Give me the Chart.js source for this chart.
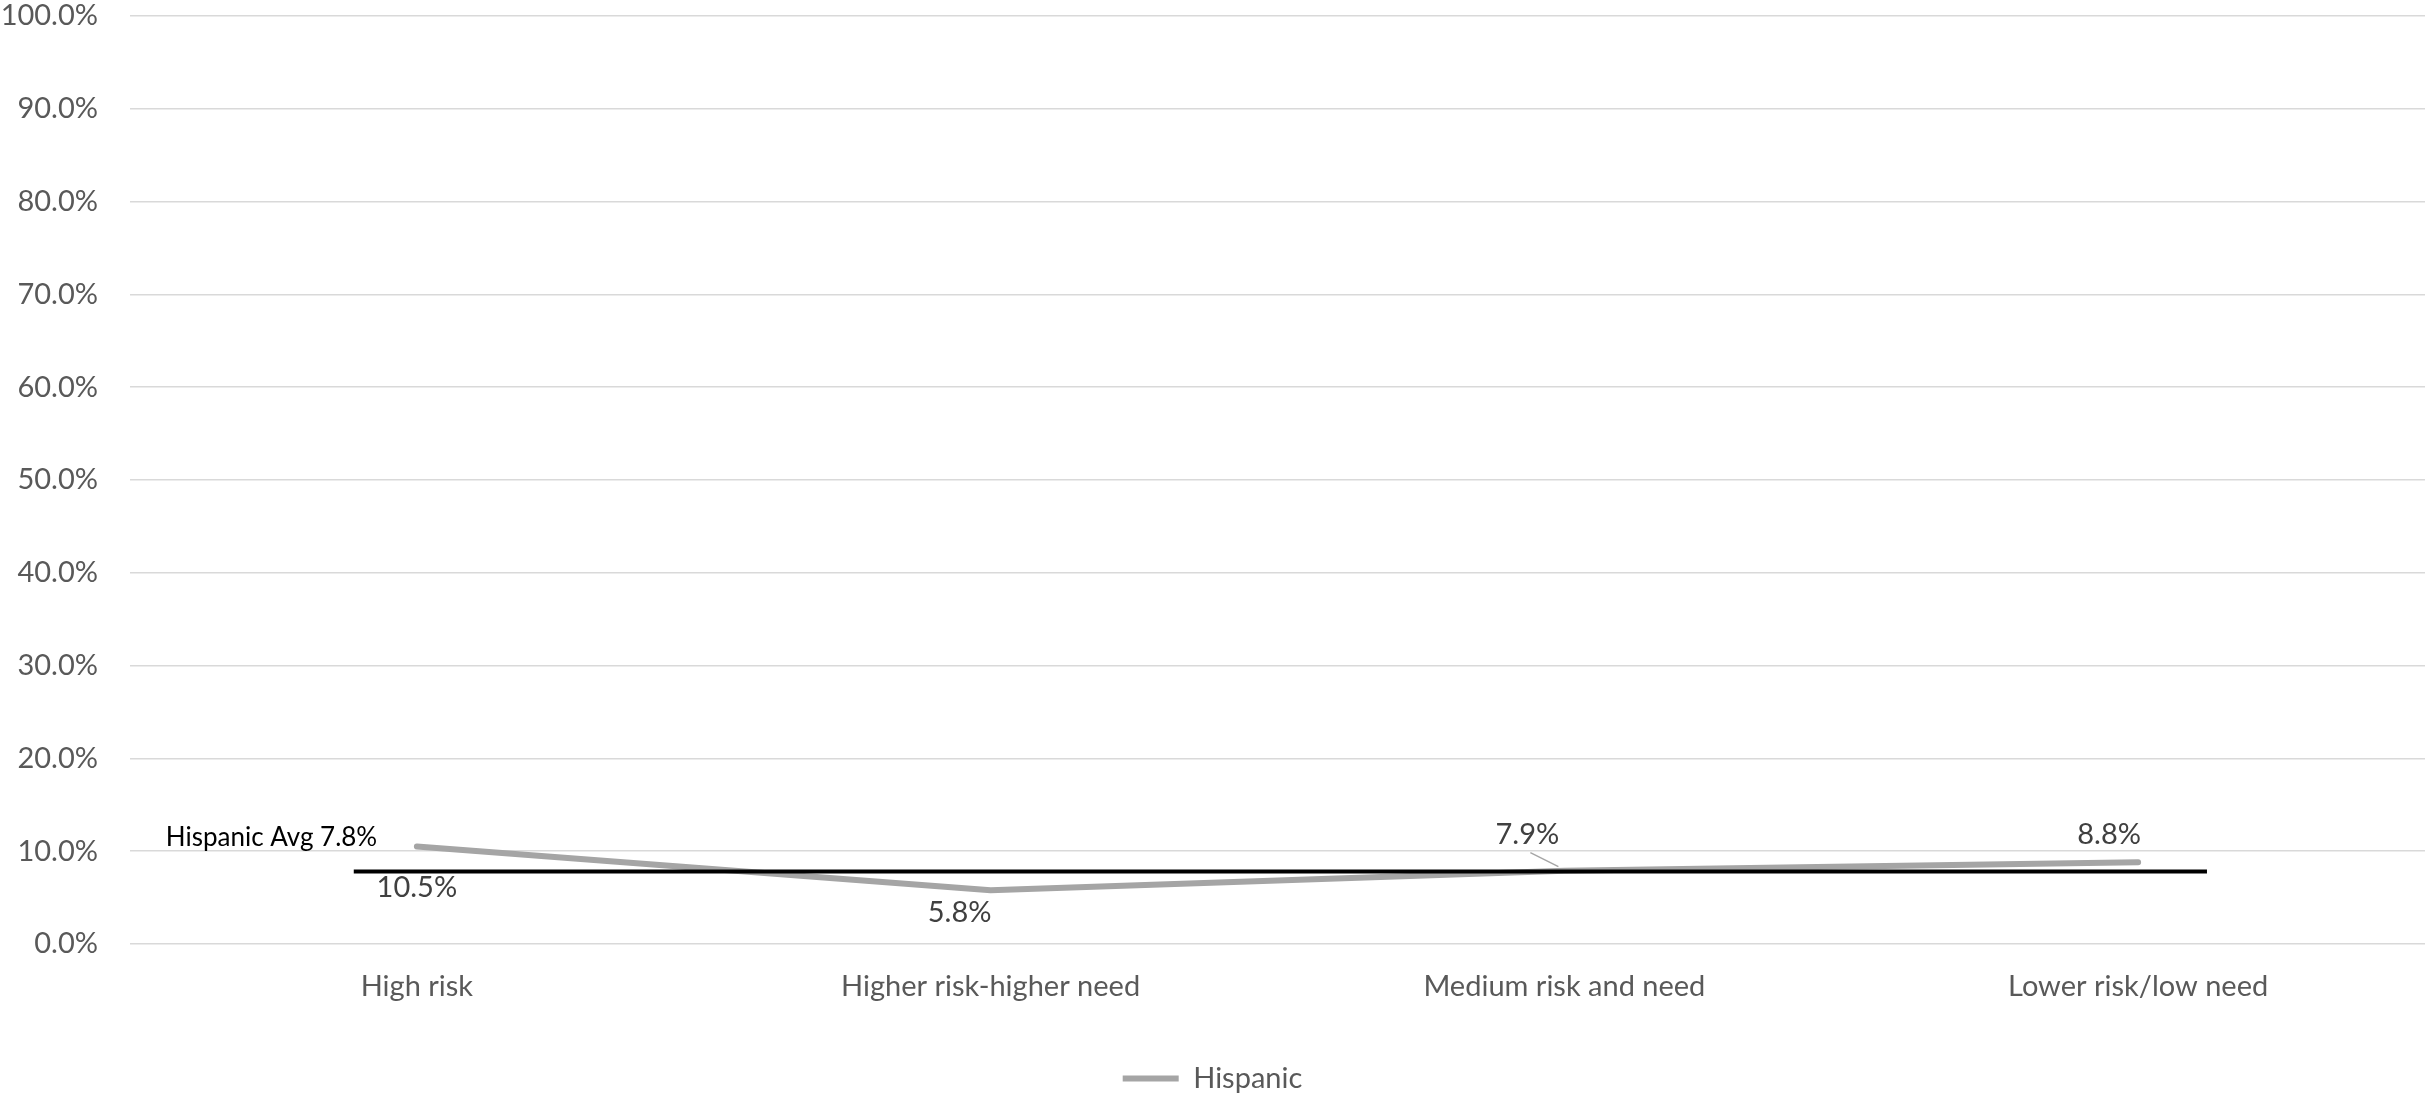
<!DOCTYPE html>
<html>
<head>
<meta charset="utf-8">
<script src="https://cdn.jsdelivr.net/npm/chart.js@4.4.0/dist/chart.umd.min.js"></script>
<style>
  body { margin: 0; background: #fff; }
  #wrap { width: 2425px; height: 1103px; }
</style>
</head>
<body>
<div id="wrap"><canvas id="chart-hispanic"></canvas></div>
<script>
const categories = ["High risk", "Higher risk-higher need", "Medium risk and need", "Lower risk/low need"]
const hispanic = [10.5, 5.8, 7.9, 8.8]
const hispanicAvg = 7.8
// start / end of the average line, in category widths from the left of the plot
const avgSpan = [0.39, 3.62]

// label offsets from each point, in px (Excel moved these by hand)
const labelOffsets = [[0, 41], [-31, 22], [-37, -36], [-29, -28]]

const fontFamily = "Lato, 'Open Sans', sans-serif"

const pointLabels = {
    id: "pointLabels",
    afterDatasetsDraw(chart) {
        const ctx = chart.ctx
        const meta = chart.getDatasetMeta(0)
        ctx.save()
        ctx.font = `29px ${fontFamily}`
        ctx.fillStyle = "#404040"
        ctx.textAlign = "center"
        ctx.textBaseline = "middle"
        meta.data.forEach((pt, i) => {
            const [dx, dy] = labelOffsets[i]
            const lx = pt.x + dx
            const ly = pt.y + dy
            ctx.fillText(hispanic[i].toFixed(1) + "%", lx, ly)
            // leader line for the 7.9% label
            if (i === 2) {
                ctx.strokeStyle = "#a5a5a5"
                ctx.lineWidth = 1.5
                ctx.beginPath()
                ctx.moveTo(lx + 3, ly + 18)
                ctx.lineTo(pt.x - 6, pt.y - 4)
                ctx.stroke()
            }
        })

        // average label
        const avgMeta = chart.getDatasetMeta(1)
        const start = avgMeta.data[0]
        ctx.font = `26px ${fontFamily}`
        ctx.fillStyle = "#000"
        ctx.textAlign = "left"
        ctx.fillText(`Hispanic Avg ${hispanicAvg}%`, start.x - 188, start.y - 34)
        ctx.restore()
    }
}

const ctx = document.getElementById("chart-hispanic").getContext("2d")
const myChart = new Chart(ctx, {
    type: "line",
    data: {
        labels: categories,
        datasets: [{
            label: "Hispanic",
            data: hispanic,
            borderColor: "#a5a5a5",
            backgroundColor: "#a5a5a5",
            borderWidth: 6,
            borderCapStyle: "round",
            borderJoinStyle: "round",
            pointRadius: 0,
            tension: 0,
            order: 1
        }, {
            label: "avg",
            data: [
                { x: avgSpan[0], y: hispanicAvg },
                { x: avgSpan[1], y: hispanicAvg }
            ],
            xAxisID: "x2",
            borderColor: "#000",
            borderWidth: 4,
            pointRadius: 0,
            order: 0
        }]
    },
    options: {
        responsive: true,
        maintainAspectRatio: false,
        animation: false,
        layout: { padding: 0 },
        scales: {
            x: {
                offset: true,
                grid: { display: false },
                border: { display: false },
                ticks: {
                    color: "#595959",
                    font: { family: fontFamily, size: 29 },
                    padding: 17,
                    maxRotation: 0
                },
                afterFit: (scale) => { scale.height = 115 }
            },
            x2: {
                type: "linear",
                display: false,
                min: 0,
                max: 4
            },
            y: {
                min: 0,
                max: 100,
                ticks: {
                    stepSize: 10,
                    color: "#595959",
                    font: { family: fontFamily, size: 29 },
                    padding: 32,
                    callback: (v) => v.toFixed(1) + "%"
                },
                grid: { color: "#d9d9d9", lineWidth: 1.5, drawTicks: false },
                border: { display: false },
                afterFit: (scale) => {
                    scale.width = 130
                    scale.paddingTop = 16
                    scale.paddingBottom = 0
                }
            }
        },
        plugins: {
            legend: {
                position: "bottom",
                labels: {
                    filter: (item) => item.text === "Hispanic",
                    usePointStyle: true,
                    pointStyle: "line",
                    pointStyleWidth: 56,
                    color: "#595959",
                    font: { family: fontFamily, size: 29 },
                    padding: 5
                }
            },
            tooltip: { enabled: false }
        }
    },
    plugins: [pointLabels]
})
</script>
</body>
</html>
